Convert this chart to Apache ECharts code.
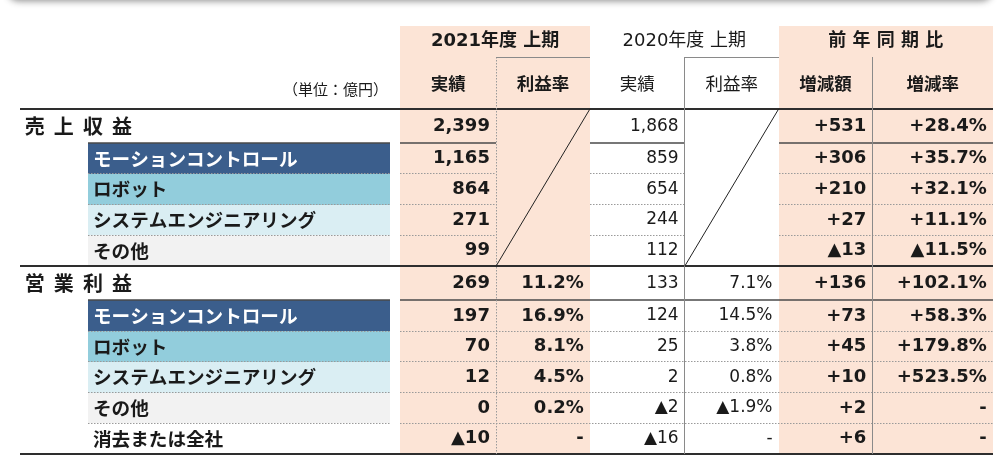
<!DOCTYPE html>
<html><head><meta charset="utf-8">
<script src="https://cdn.jsdelivr.net/npm/echarts@6/dist/echarts.min.js"></script>
<style>html,body{margin:0;padding:0;background:#fff}#c{width:1000px;height:461px}</style>
</head><body><div id="c"></div>
<script>
// ---------- data ----------
const groupHeaders = ['2021年度 上期', '2020年度 上期', '前 年 同 期 比'];
const subHeaders = ['実績', '利益率', '実績', '利益率', '増減額', '増減率'];
const unitLabel = '（単位：億円）';
const sectionLabels = ['売  上  収  益', '営  業  利  益'];
const revenueSegments = ['モーションコントロール', 'ロボット', 'システムエンジニアリング', 'その他'];
const profitSegments = ['モーションコントロール', 'ロボット', 'システムエンジニアリング', 'その他', '消去または全社'];
// index 0 = total, then segments
const revenue2021 = [2399, 1165, 864, 271, 99];
const revenue2020 = [1868, 859, 654, 244, 112];
const revenueChange = [531, 306, 210, 27, -13];
const revenueChangeRate = [28.4, 35.7, 32.1, 11.1, -11.5];
const profit2021 = [269, 197, 70, 12, 0, -10];
const margin2021 = [11.2, 16.9, 8.1, 4.5, 0.2, null];
const profit2020 = [133, 124, 25, 2, -2, -16];
const margin2020 = [7.1, 14.5, 3.8, 0.8, -1.9, null];
const profitChange = [136, 73, 45, 10, 2, 6];
const profitChangeRate = [102.1, 58.3, 179.8, 523.5, null, null];

// ---------- layout (table units) ----------
const colW = [4.01, 1.01, 0.99, 1, 0.99, 0.99, 1.27];
const rowH = [1.01, 1.69, 1.12, 1, 1, 1, 1, 1.12, 1, 1, 1, 1, 1];
const cum = a => a.reduce((acc, v) => { acc.push(acc[acc.length - 1] + v); return acc; }, [0]);
const X = cum(colW), Y = cum(rowH);
const XMAX = X[X.length - 1], YMAX = Y[Y.length - 1];
const segX0 = 0.72, segX1 = 3.90, pad = 0.065;
const segColors = ['#3B5E8C', '#92CDDC', '#DAEEF3', '#F2F2F2', '#FFFFFF'];
const PEACH = '#FCE4D6';
const FONT_NUM = '"DejaVu Sans", "Noto Sans CJK JP", sans-serif';
const FONT_JP = '"Noto Sans CJK JP", sans-serif';
const INK = '#1a1a1a';

const fmtNum = v => (v < 0 ? '▲' : '') + Math.abs(v).toLocaleString('en-US');
const fmtChange = v => (v < 0 ? '▲' : '+') + Math.abs(v).toLocaleString('en-US');
const fmtPct = v => v == null ? '-' : (v < 0 ? '▲' : '') + Math.abs(v).toFixed(1) + '%';
const fmtChangePct = v => v == null ? '-' : (v < 0 ? '▲' : '+') + Math.abs(v).toFixed(1) + '%';
const mid = r => (Y[r] + Y[r + 1]) / 2;

// ---------- fills ----------
const fills = [];
fills.push({ value: [X[1], Y[0], X[3], Y[13]], color: PEACH });
fills.push({ value: [X[5], Y[0], X[7], Y[13]], color: PEACH });
revenueSegments.forEach((s, i) => fills.push({ value: [segX0, Y[3 + i], segX1, Y[4 + i]], color: segColors[i] }));
profitSegments.forEach((s, i) => fills.push({ value: [segX0, Y[8 + i], segX1, Y[9 + i]], color: segColors[i] }));

// ---------- rules ----------
const rules = [];
const THICK = { stroke: '#2e2e2e', lineWidth: 2 };
const MED = { stroke: '#4a4a4a', lineWidth: 1.5 };
const DOT = { stroke: '#9a9a9a', lineWidth: 1, lineDash: [1.5, 1.5] };
const GRAYV = { stroke: '#8a8a8a', lineWidth: 1 };
const DIAG = { stroke: '#222', lineWidth: 1 };
[2, 7, 13].forEach(r => rules.push({ value: [0, Y[r], XMAX, Y[r]], s: THICK }));
function hRow(r, st, skipMerged) {
  rules.push({ value: [segX0, Y[r], segX1, Y[r]], s: st });
  if (skipMerged) {
    rules.push({ value: [X[1], Y[r], X[2], Y[r]], s: st });
    rules.push({ value: [X[3], Y[r], X[4], Y[r]], s: st });
    rules.push({ value: [X[5], Y[r], X[7], Y[r]], s: st });
  } else {
    rules.push({ value: [X[1], Y[r], X[7], Y[r]], s: st });
  }
}
hRow(3, MED, true);
[4, 5, 6].forEach(r => hRow(r, DOT, true));
hRow(8, MED, false);
[9, 10, 11, 12].forEach(r => hRow(r, DOT, false));
rules.push({ value: [X[2], Y[1], X[2], Y[13]], s: DOT });
rules.push({ value: [X[4], Y[1], X[4], Y[13]], s: GRAYV });
rules.push({ value: [X[6], Y[1], X[6], Y[13]], s: GRAYV });
rules.push({ value: [X[2], Y[1], X[3], Y[1]], s: GRAYV });
rules.push({ value: [X[4], Y[1], X[5], Y[1]], s: GRAYV });
rules.push({ value: [X[2], Y[7], X[3], Y[2]], s: DIAG, diag: true });
rules.push({ value: [X[4], Y[7], X[5], Y[2]], s: DIAG, diag: true });

// ---------- texts ----------
const texts = [];
function addText(x, y, text, o) { texts.push(Object.assign({ value: [x, y], text: text }, o)); }
const hdrBold = [true, false, true];
groupHeaders.forEach((t, i) => addText((X[1 + 2 * i] + X[3 + 2 * i]) / 2, mid(0), t,
  { align: 'center', size: 18, weight: hdrBold[i] ? 'bold' : 'normal', family: FONT_NUM }));
subHeaders.forEach((t, i) => addText((X[1 + i] + X[2 + i]) / 2, mid(1), t,
  { align: 'center', size: 17.5, weight: (i === 2 || i === 3) ? 'normal' : 'bold', family: FONT_JP }));
addText(segX1 - 0.02, Y[1] + rowH[1] * 0.62, unitLabel, { align: 'right', size: 15, weight: 'normal', family: FONT_JP });
sectionLabels.forEach((t, i) => addText(0.05, mid(i === 0 ? 2 : 7), t,
  { align: 'left', size: 20, weight: 'bold', family: FONT_JP }));
revenueSegments.forEach((t, i) => addText(segX0 + 0.05, mid(3 + i), t,
  { align: 'left', size: 18.6, weight: 'bold', family: FONT_JP, color: i === 0 ? '#fff' : INK }));
profitSegments.forEach((t, i) => addText(segX0 + 0.05, mid(8 + i), t,
  { align: 'left', size: 18.6, weight: 'bold', family: FONT_JP, color: i === 0 ? '#fff' : INK }));
function numCell(col, row, text) {
  const normal = (col === 3 || col === 4);
  addText(X[col + 1] - pad, mid(row), text,
    { align: 'right', size: normal ? 17 : 18, weight: normal ? 'normal' : 'bold', family: FONT_NUM });
}
revenue2021.forEach((v, i) => {
  numCell(1, 2 + i, fmtNum(v));
  numCell(3, 2 + i, fmtNum(revenue2020[i]));
  numCell(5, 2 + i, fmtChange(revenueChange[i]));
  numCell(6, 2 + i, fmtChangePct(revenueChangeRate[i]));
});
profit2021.forEach((v, i) => {
  numCell(1, 7 + i, fmtNum(v));
  numCell(2, 7 + i, fmtPct(margin2021[i]));
  numCell(3, 7 + i, fmtNum(profit2020[i]));
  numCell(4, 7 + i, fmtPct(margin2020[i]));
  numCell(5, 7 + i, fmtChange(profitChange[i]));
  numCell(6, 7 + i, fmtChangePct(profitChangeRate[i]));
});

// ---------- chart ----------
const chart = echarts.init(document.getElementById('c'), null, { renderer: 'canvas' });
const crisp = (v, w) => (Math.round(w) % 2 === 1) ? Math.floor(v) + 0.5 : Math.round(v);
chart.setOption({
  animation: false,
  backgroundColor: '#fff',
  grid: { left: 20, right: 7, top: 26, bottom: 7 },
  xAxis: { type: 'value', min: 0, max: XMAX, show: false },
  yAxis: { type: 'value', min: 0, max: YMAX, inverse: true, show: false },
  graphic: [{
    type: 'rect', z: -10,
    shape: { x: 8, y: -40, width: 984, height: 39, r: 10 },
    style: { fill: '#fff', shadowBlur: 7, shadowColor: 'rgba(0,0,0,0.45)', shadowOffsetY: 2 }
  }],
  series: [
    {
      type: 'custom', name: 'fills', clip: false, z: 1,
      encode: { x: [0, 2], y: [1, 3] },
      data: fills.map(f => f.value),
      renderItem: (params, api) => {
        const a = api.coord([api.value(0), api.value(1)]);
        const b = api.coord([api.value(2), api.value(3)]);
        const x0 = Math.round(a[0]), x1 = Math.round(b[0]);
        const y0 = Math.round(Math.min(a[1], b[1])), y1 = Math.round(Math.max(a[1], b[1]));
        return { type: 'rect', shape: { x: x0, y: y0, width: x1 - x0, height: y1 - y0 },
          style: { fill: fills[params.dataIndex].color } };
      }
    },
    {
      type: 'custom', name: 'rules', clip: false, z: 2,
      encode: { x: [0, 2], y: [1, 3] },
      data: rules.map(r => r.value),
      renderItem: (params, api) => {
        const r = rules[params.dataIndex];
        const a = api.coord([api.value(0), api.value(1)]);
        const b = api.coord([api.value(2), api.value(3)]);
        const w = r.s.lineWidth;
        let x1 = a[0], y1 = a[1], x2 = b[0], y2 = b[1];
        if (!r.diag) {
          if (y1 === y2) { y1 = y2 = crisp(y1, w); x1 = Math.round(x1); x2 = Math.round(x2); }
          else { x1 = x2 = crisp(x1, w); y1 = Math.round(y1); y2 = Math.round(y2); }
        }
        return { type: 'line', shape: { x1, y1, x2, y2 },
          style: Object.assign({ fill: null }, r.s) };
      }
    },
    {
      type: 'custom', name: 'texts', clip: false, z: 3,
      encode: { x: 0, y: 1 },
      data: texts.map(t => t.value),
      renderItem: (params, api) => {
        const t = texts[params.dataIndex];
        const p = api.coord([api.value(0), api.value(1)]);
        return { type: 'text', x: p[0], y: p[1],
          style: { text: t.text, fill: t.color || INK, fontSize: t.size, fontWeight: t.weight,
            fontFamily: t.family, align: t.align, textAlign: t.align,
            verticalAlign: 'middle', textVerticalAlign: 'middle' } };
      }
    }
  ]
});
</script></body></html>
